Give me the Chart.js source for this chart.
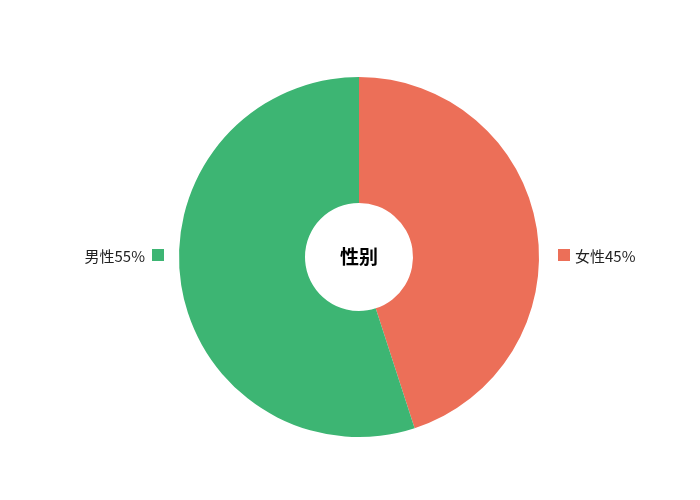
<!DOCTYPE html>
<html>
<head>
<meta charset="utf-8">
<script src="https://cdn.jsdelivr.net/npm/chart.js@4/dist/chart.umd.min.js"></script>
<style>
  html, body { margin: 0; padding: 0; background: #fff; }
  #wrap { width: 700px; height: 500px; }
</style>
</head>
<body>
<div id="wrap"><canvas id="mycanvas" width="700" height="500"></canvas></div>
<script>
var genders = ['女性', '男性'];
var shares = [45, 55];
var colors = ['#ec6f58', '#3db573'];
var centerTitle = '性别';

var FONT = '"Noto Sans CJK SC", "Noto Sans", sans-serif';

// draws the side labels with their colour squares and the title in the hole
var sideLabels = {
  id: 'sideLabels',
  afterDatasetsDraw: function(chart) {
    var ctx = chart.ctx;
    var arc = chart.getDatasetMeta(0).data[0];
    var cx = arc.x, cy = arc.y, r = arc.outerRadius;
    ctx.save();
    ctx.font = '15px ' + FONT;
    ctx.textBaseline = 'middle';
    for (var i = 0; i < genders.length; i++) {
      var txt = genders[i] + shares[i] + '%';
      var box = 12;
      if (i == 0) {
        var x = cx + r + 19;
        ctx.fillStyle = colors[i];
        ctx.fillRect(x, cy - 8, box, box);
        ctx.fillStyle = '#222';
        ctx.textAlign = 'left';
        ctx.fillText(txt, x + box + 5, cy - 1);
      } else {
        var x = cx - r - 15;
        ctx.fillStyle = colors[i];
        ctx.fillRect(x - box, cy - 8, box, box);
        ctx.fillStyle = '#222';
        ctx.textAlign = 'right';
        ctx.fillText(txt, x - box - 7, cy - 1);
      }
    }
    ctx.font = 'bold 19px ' + FONT;
    ctx.fillStyle = '#000';
    ctx.textAlign = 'center';
    ctx.fillText(centerTitle, cx, cy);
    ctx.restore();
  }
};

var ctx = document.getElementById('mycanvas').getContext('2d');
var pieChart = new Chart(ctx, {
  type: 'doughnut',
  data: {
    labels: genders,
    datasets: [{
      data: shares,
      backgroundColor: colors,
      borderWidth: 0
    }]
  },
  options: {
    responsive: false,
    animation: false,
    cutout: '30%',
    layout: { padding: { left: 100, right: 82, top: 77, bottom: 63 } },
    plugins: {
      legend: { display: false },
      tooltip: { enabled: false }
    }
  },
  plugins: [sideLabels]
});
</script>
</body>
</html>
